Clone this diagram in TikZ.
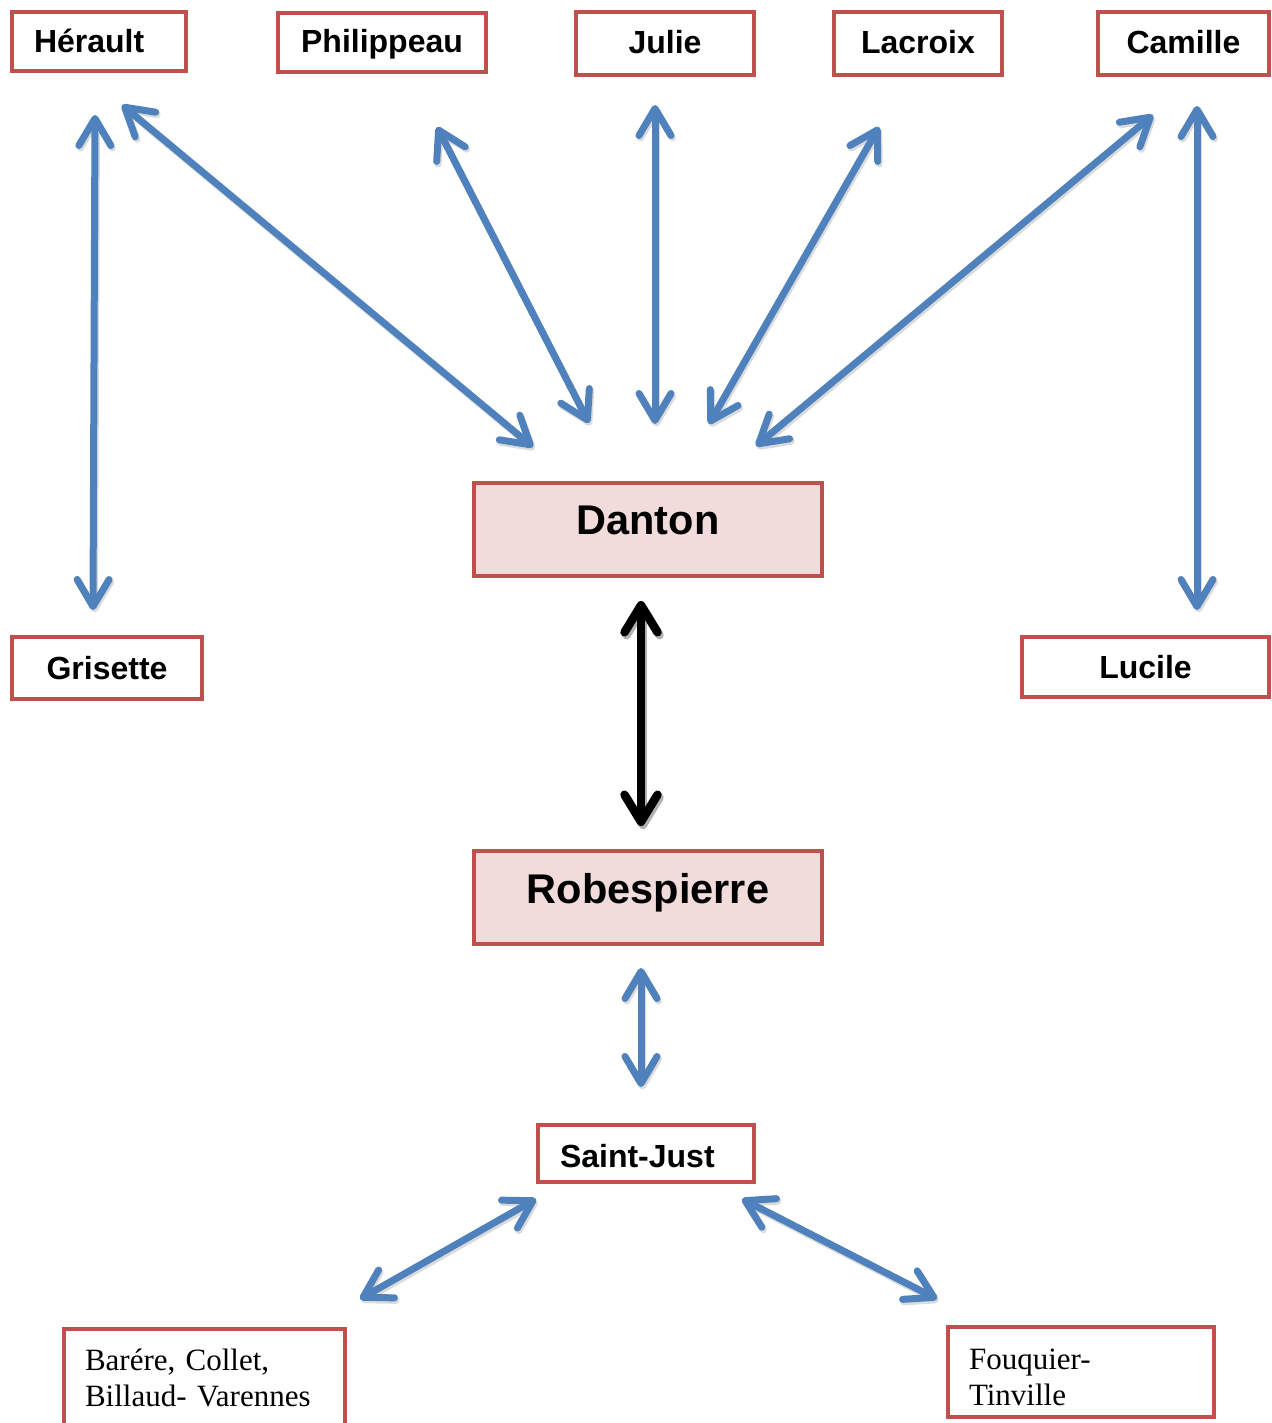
\documentclass[tikz,border=0pt]{standalone}
\usepackage{fontspec}
\setmainfont{Liberation Sans}
\newfontfamily\serifface{Liberation Serif}
\usetikzlibrary{arrows.meta}
\definecolor{boxred}{HTML}{C0504D}
\definecolor{arrowblue}{HTML}{4F81BD}
\definecolor{boxpink}{HTML}{F2DCDB}
\frenchspacing
\begin{document}
\begin{tikzpicture}[x=1pt,y=-1pt,
  box/.style={draw=boxred, line width=4.5pt, outer sep=0pt, inner xsep=0pt, inner ysep=0pt, anchor=north west, fill=white},
  smalltext/.style={font=\fontsize{32}{38}\selectfont\bfseries},
  bigtext/.style={font=\fontsize{41.5}{48}\selectfont\bfseries, fill=boxpink},
  leftbox/.style={align=left},
  serifbox/.style={font=\serifface\fontsize{31}{36}\selectfont, align=left, inner xsep=21pt},
  barb/.tip={Straight Barb[length=27pt,width=32pt,round]},
  bigbarb/.tip={Straight Barb[length=27pt,width=33pt,round]},
  link/.style={draw=arrowblue, line width=7pt, barb-barb},
  linkshade/.style={draw=black!14, line width=7pt, barb-barb, transform canvas={shift={(1.5,2.5)}}},
  mainlink/.style={draw=black, line width=8.5pt, bigbarb-bigbarb},
  mainshade/.style={draw=black!30, line width=8.5pt, bigbarb-bigbarb, transform canvas={shift={(2,3)}}}
]
\useasboundingbox (0,0) rectangle (1271,1423);
\clip (0,0) rectangle (1271,1423);

% boxes
\node[box, smalltext, leftbox, inner xsep=22pt, text width=130pt, text height=41pt, text depth=18pt] (herault) at (12,12) {Hérault};
\node[box, smalltext, minimum width=208pt, text height=40pt, text depth=19pt] (philippeau) at (278,13) {Philippeau};
\node[box, smalltext, minimum width=178pt, text height=42pt, text depth=21pt] (julie) at (576,12) {Julie};
\node[box, smalltext, minimum width=168pt, text height=42pt, text depth=21pt] (lacroix) at (834,12) {Lacroix};
\node[box, smalltext, minimum width=171pt, text height=42pt, text depth=21pt] (camille) at (1098,12) {Camille};
\node[box, bigtext, minimum width=348pt, text height=51pt, text depth=42pt] (danton) at (474,483) {Danton};
\node[box, smalltext, minimum width=190pt, text height=42pt, text depth=20pt] (grisette) at (12,637) {Grisette};
\node[box, smalltext, minimum width=247pt, text height=41pt, text depth=19pt] (lucile) at (1022,637) {Lucile};
\node[box, bigtext, minimum width=348pt, text height=52pt, text depth=41pt] (robespierre) at (474,851) {Robespierre};
\node[box, smalltext, leftbox, inner xsep=22pt, text width=172pt, text height=42pt, text depth=15pt] (saintjust) at (538,1125) {Saint-Just};
\node[box, serifbox, text width=239pt, text height=41pt, text depth=80pt] (barere) at (64,1329) {Barére, Collet,\\Billaud- Varennes};
\node[box, serifbox, text width=224pt, text height=42pt, text depth=48pt] (fouquier) at (948,1327) {Fouquier-\\Tinville};

% connector end points
\coordinate (hgA) at (95,115);   \coordinate (hgB) at (93,610);
\coordinate (hdA) at (122,105);  \coordinate (hdB) at (533,447);
\coordinate (pdA) at (437,127);  \coordinate (pdB) at (589,423);
\coordinate (jdA) at (655,105);  \coordinate (jdB) at (655,424);
\coordinate (ldA) at (879,127);  \coordinate (ldB) at (709,424);
\coordinate (cdA) at (1153,115); \coordinate (cdB) at (756,446);
\coordinate (clA) at (1197,106); \coordinate (clB) at (1197,610);
\coordinate (drA) at (641,601);  \coordinate (drB) at (641,826);
\coordinate (rsA) at (641,968);  \coordinate (rsB) at (641,1087);
\coordinate (sbA) at (536,1199); \coordinate (sbB) at (360,1299);
\coordinate (sfA) at (742,1199); \coordinate (sfB) at (937,1299);

% shadows
\foreach \a/\b in {hgA/hgB, hdA/hdB, pdA/pdB, jdA/jdB, ldA/ldB, cdA/cdB, clA/clB, rsA/rsB, sbA/sbB, sfA/sfB}
  \draw[linkshade] (\a) -- (\b);
\draw[mainshade] (drA) -- (drB);

% connectors
\draw[link] (hgA) -- (hgB);
\draw[link] (hdA) -- (hdB);
\draw[link] (pdA) -- (pdB);
\draw[link] (jdA) -- (jdB);
\draw[link] (ldA) -- (ldB);
\draw[link] (cdA) -- (cdB);
\draw[link] (clA) -- (clB);
\draw[mainlink] (drA) -- (drB);
\draw[link] (rsA) -- (rsB);
\draw[link] (sbA) -- (sbB);
\draw[link] (sfA) -- (sfB);
\end{tikzpicture}
\end{document}
